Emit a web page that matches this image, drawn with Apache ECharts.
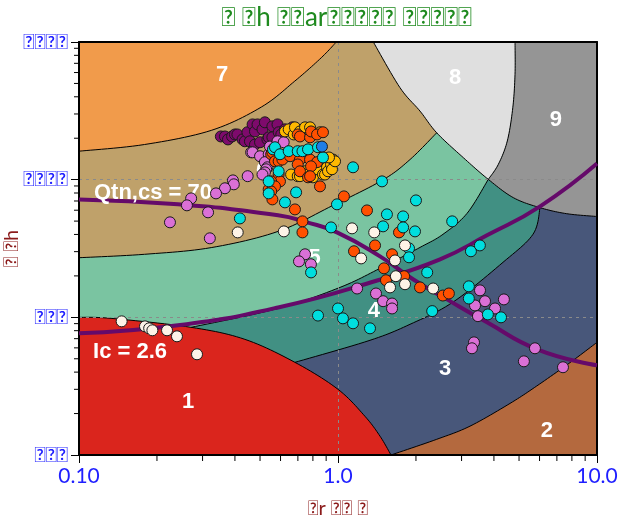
<!DOCTYPE html>
<html><head><meta charset="utf-8">
<script src="https://cdn.jsdelivr.net/npm/echarts@6/dist/echarts.min.js"></script>
<style>html,body{margin:0;padding:0;background:#fff}#c{width:619px;height:521px}</style>
</head><body><div id="c"></div>
<script>
const T = '\uE000';
const titleText = T + ' ' + T + 'h ' + T + T + 'ar' + T + T + T + T + T + ' ' + T + T + T + T + T;
const xAxisName = T + 'r ' + T + T + ' ' + T;
const yAxisName = T + ' ' + T + 'h';
const xTickLabels = ['0.10', '1.0', '10.0'];           // 0.1, 1, 10
const yTickLabels = [T + T + T, T + T + T, T + T + T + T, T + T + T + T]; // 1, 10, 100, 1000
const xMinorTicks = [0.2,0.3,0.4,0.5,0.6,0.7,0.8,0.9,2,3,4,5,6,7,8,9];
const yMinorTicks = [2,3,4,5,6,7,8,9,20,30,40,50,60,70,80,90,200,300,400,500,600,700,800,900];

// zone boundaries [Fr, Qtn]
const b76 = [[0.1,161],[0.179,180],[0.324,228],[0.506,337],[0.681,520],[0.862,769],[0.985,1000]];
const bOuter = [[1.369,1000],[1.735,466],[2.073,315],[2.405,219],[3.047,144.5],[3.804,100.5],[4.753,74.0],[6.026,62.6],[7.64,56.6],[10,54]];
const b89 = [[4.825,1000],[4.825,582],[4.73,333],[4.505,191],[4.158,129],[3.804,100.5]];
const b65 = [[0.1,27.1],[0.179,28.7],[0.324,32.1],[0.587,42.1],[0.957,65.1],[1.492,99.7],[1.897,140],[2.405,219]];
const b54 = [[0.271,8.46],[0.587,11.6],[1.018,16.5],[1.453,22.7],[2.073,32.2],[2.543,40.1],[3.149,56.9],[3.804,100.5]];
const b43 = [[0.682,4.71],[1.329,6.81],[1.897,8.90],[2.78,12.9],[4.336,25.1],[5.66,40.1],[6.026,62.6]];
const bRed = [[0.1,10],[0.133,9.83],[0.271,8.46],[0.437,6.92],[0.682,4.71],[1.0,3.00],[1.271,1.91],[1.453,1.37],[1.602,1]];
const b32 = [[1.602,1],[2.405,1.30],[3.233,1.62],[4.615,2.37],[5.85,3.17],[7.87,4.69],[10,6.58]];

// reference curves
const icLine = [[0.1,7.65],[0.241,8.75],[0.587,11.8],[1.427,18.6],[2.477,26.4],[3.76,39.4],[6.03,64.0],[10,131]];
const qtncsLine = [[0.1,71.9],[0.241,66.2],[0.587,55.1],[0.759,49.0],[0.991,41.4],[1.453,27.7],[1.948,18.9],[2.635,13.5],[3.76,9.20],[5.87,5.86],[10,4.48]];

// zone labels
const zoneNames = ['1','2','3','4','5','6','7','8','9'];
const zoneLabelFr = [0.264,6.41,2.59,1.377,0.813,0.509,0.357,2.83,6.94];
const zoneLabelQ = [2.41,1.49,4.19,11.2,27.1,115,575,550,270];
const noteText = ['Qtn,cs = 70', 'Ic = 2.6'];
const noteFr = [0.193, 0.1574];
const noteQ = [80, 5.62];

// measured points [Fr, Qtn]
const darkPurplePts = [[0.353,206],[0.366,206],[0.376,196],[0.390,206],[0.400,213],[0.409,213],[0.428,196],[0.437,190],[0.447,221],[0.457,190],[0.468,252],[0.478,224],[0.478,180],[0.489,252],[0.500,187],[0.511,232],[0.522,261],[0.534,196],[0.540,203],[0.558,244],[0.558,203],[0.584,252],[0.590,221],[0.604,213],[0.624,232],[0.667,240]];
const orchidPts = [[0.462,158],[0.468,158],[0.500,148],[0.540,153],[0.546,174],[0.584,190],[0.617,187],[0.522,134],[0.534,123],[0.528,119],[0.522,113],[0.511,109],
 [0.448,106],[0.393,98.8],[0.396,92.5],[0.366,86.6],[0.338,79.5],[0.271,73.1],[0.261,65.1],[0.315,57.9],[0.2245,49.0],[0.320,37.5],
 [0.746,28.7],[0.707,25.5],[0.786,24.3],[1.185,16.2],[1.402,14.9],[1.493,13.1],[1.617,12.6],[1.617,11.6],
 [3.534,15.7],[3.695,13.1],[3.381,12.2],[4.039,11.6],[4.37,13.5],[3.47,10.2],[3.35,6.58],[3.29,5.96],[5.76,5.96],[5.22,4.79],[7.39,4.34]];
const goldPts = [[0.624,224],[0.645,232],[0.675,213],[0.682,240],[0.713,224],[0.746,240],[0.780,240],[0.852,221],[0.659,109],[0.699,106],[0.713,106],[0.746,115],[0.761,109],[0.787,106],[0.800,104],[0.830,119],[0.875,109],[0.891,109],[0.907,123],[0.915,115],[0.940,129],[0.948,119],[0.957,140],[0.974,136],[0.923,145]];
const orangeRedPts = [[0.699,213],[0.713,206],[0.780,203],[0.787,224],[0.830,213],[0.875,221],[0.552,153],[0.558,158],[0.571,136],[0.590,136],[0.610,140],[0.653,148],[0.713,140],[0.780,140],[0.830,134],[0.787,125],[0.699,129],[0.713,115],[0.766,104],[0.780,106],[0.590,109],[0.597,97.2],[0.552,97.2],[0.852,89.4],[0.571,89.4],[0.540,85.0],[0.552,82.2],[0.558,71.9],[1.054,75.6],[0.682,60.8],[0.729,49.8],[0.729,41.4],[1.294,59.8],[1.72,41.4],[1.390,33.3],[1.153,30.2],[1.617,28.7],[1.505,22.7],[1.532,18.6],[1.80,19.9],[2.073,16.5],[2.54,14.4],[2.68,14.9]];
const cyanPts = [[0.561,166],[0.571,172],[0.597,153],[0.645,161],[0.699,161],[0.729,161],[0.766,166],[0.837,172],[0.875,145],[0.590,115],[0.540,97.2],[0.540,79.5],[0.624,68.4],[0.689,80.9],[1.143,123],[1.479,97.2],[0.991,66.2],[0.940,45.0],[0.418,52.3],[2.00,70.7],[1.545,56.0],[1.784,54.1],[1.493,45.8],[1.784,45.0],[1.983,42.1],[1.88,31.7],[1.88,27.3],[2.21,21.2],[2.76,49.8],[3.26,30.2],[3.53,33.3],[0.787,21.2],[0.837,10.3],[1.00,11.6],[1.045,9.83],[1.143,9.05],[1.329,8.32],[2.31,11.1],[3.20,16.8],[3.20,13.7],[3.79,10.5],[4.26,10.0]];
const whitePts = [[0.410,41.4],[0.618,42.1],[1.133,44.3],[1.38,41.4],[1.814,33.3],[1.228,26.8],[1.660,25.9],[1.673,19.9],[1.588,16.5],[1.814,17.4],[2.33,16.2],[0.1461,9.35],[0.1798,8.60],[0.1866,8.32],[0.192,8.05],[0.2187,8.05],[0.2389,7.28],[0.2855,5.39]];
const bluePts = [[0.867,174]];

const curves = {b76, bOuter, b89, b65, b54, b43, bRed, b32};
const NSEG = 12;
function catmull(pts, N) {
  const out = [], n = pts.length;
  for (let i = 0; i < n - 1; i++) {
    const p0 = pts[Math.max(i - 1, 0)], p1 = pts[i], p2 = pts[i + 1], p3 = pts[Math.min(i + 2, n - 1)];
    for (let k = 0; k < N; k++) {
      const t = k / N, t2 = t * t, t3 = t2 * t;
      out.push([0, 1].map(d => 0.5 * (2 * p1[d] + (-p0[d] + p2[d]) * t + (2 * p0[d] - 5 * p1[d] + 4 * p2[d] - p3[d]) * t2 + (-p0[d] + 3 * p1[d] - 3 * p2[d] + p3[d]) * t3)));
    }
  }
  out.push(pts[n - 1].slice());
  return out;
}
function curvePx(api, name) { return catmull(curves[name].map(p => api.coord(p)), NSEG); }

const zones = [
  {color: '#48577A', pieces: [[0.1,1],[10,1],[10,1000],[0.1,1000]]},
  {color: '#B4693E', pieces: [{c:'b32'}, [10,1]]},
  {color: '#419083', pieces: [[0.1,1],[0.682,1],{c:'b43'},[6.026,1000],[0.1,1000]]},
  {color: '#7AC4A1', pieces: [[0.1,1],[0.271,1],{c:'b54'},[3.804,1000],[0.1,1000]]},
  {color: '#BFA16A', pieces: [{c:'b65'},[2.405,1000],[0.1,1000]]},
  {color: '#F19B4B', pieces: [{c:'b76'},[0.1,1000]]},
  {color: '#DFDFDF', pieces: [{c:'bOuter', s:0, e:5},{c:'b89', rev:true}]},
  {color: '#959595', pieces: [{c:'b89'},{c:'bOuter', s:5},[10,1000]]},
  {color: '#DA251D', pieces: [{c:'bRed'},[0.1,1]]}
];
const strokeNames = ['b76','bOuter','b89','b65','b54','b43','bRed','b32'];

const FONT = 'Lato';
const chart = echarts.init(document.getElementById('c'));
const logX = v => Math.round(Math.log10(v));

function scatter(data, color) {
  return {type:'scatter', data, symbolSize: 11, z: 5,
    itemStyle: {color, borderColor: '#1a1a1a', borderWidth: 1, opacity: 1}, emphasis:{disabled:true}};
}

const option = {
  animation: false,
  backgroundColor: '#fff',
  grid: {left: 79, right: 22, top: 42, bottom: 66, containLabel: false, outerBoundsMode: 'none'},
  graphic: [{type:'text', x: 347, y: 18, z: 10,
    style: {text: titleText, fill: '#1f8a1f', font: '26px Lato', align: 'center', verticalAlign: 'middle'}}],
  xAxis: [{
    type: 'log', logBase: 10, min: 0.1, max: 10, z: 2,
    name: xAxisName, nameLocation: 'middle', nameGap: 44, nameMoveOverlap: false,
    nameTextStyle: {color: '#8b1a1a', fontSize: 20, fontFamily: FONT},
    axisLine: {show: true, onZero: false, lineStyle: {color: '#000', width: 2}},
    axisTick: {show: true, length: 8, lineStyle: {color: '#000'}},
    axisLabel: {color: '#1f1fff', fontSize: 21, margin: 11, fontFamily: FONT,
      formatter: v => xTickLabels[logX(v) + 1]},
    splitLine: {show: true, lineStyle: {color: '#8a8a8a', type: [3, 4], width: 1}}
  }, {
    type: 'log', logBase: 10, min: 0.1, max: 10, position: 'top', z: 2,
    axisLine: {show: true, onZero: false, lineStyle: {color: '#000', width: 2}},
    axisTick: {show: false}, axisLabel: {show: false}, splitLine: {show: false}
  }],
  yAxis: [{
    type: 'log', logBase: 10, min: 1, max: 1000, z: 2,
    name: yAxisName, nameLocation: 'middle', nameGap: 57, nameMoveOverlap: false,
    nameTextStyle: {color: '#8b1a1a', fontSize: 20, fontFamily: FONT},
    axisLine: {show: true, onZero: false, lineStyle: {color: '#000', width: 2}},
    axisTick: {show: true, length: 8, lineStyle: {color: '#000'}},
    axisLabel: {color: '#1f1fff', fontSize: 21, margin: 11, fontFamily: FONT,
      formatter: v => yTickLabels[logX(v)]},
    splitLine: {show: true, lineStyle: {color: '#8a8a8a', type: [3, 4], width: 1}}
  }, {
    type: 'log', logBase: 10, min: 1, max: 1000, position: 'right', z: 2,
    axisLine: {show: true, onZero: false, lineStyle: {color: '#000', width: 2}},
    axisTick: {show: false}, axisLabel: {show: false}, splitLine: {show: false}
  }],
  series: [
    {type: 'custom', z: 1, clip: true, silent: true,
      data: zones.map(() => [1, 10]),
      renderItem: (params, api) => {
        const zn = zones[params.dataIndex];
        let pts = [];
        zn.pieces.forEach(pc => {
          if (Array.isArray(pc)) { pts.push(api.coord(pc)); return; }
          let s = curvePx(api, pc.c);
          const a = (pc.s || 0) * NSEG, b = pc.e != null ? pc.e * NSEG + 1 : s.length;
          s = s.slice(a, b);
          if (pc.rev) s.reverse();
          pts = pts.concat(s);
        });
        return {type: 'polygon', shape: {points: pts}, style: {fill: zn.color}};
      }},
    {type: 'custom', z: 1.5, clip: true, silent: true,
      data: strokeNames.map(() => [1, 10]),
      renderItem: (params, api) => ({type: 'polyline', shape: {points: curvePx(api, strokeNames[params.dataIndex])},
        style: {stroke: '#000', lineWidth: 1, fill: null}})},
    {type: 'custom', z: 2, clip: false, silent: true,
      data: xMinorTicks.map(v => [v, 1]),
      renderItem: (params, api) => { const p = api.coord([api.value(0), 1]);
        return {type: 'line', shape: {x1: p[0], y1: p[1], x2: p[0], y2: p[1] + 6}, style: {stroke: '#000', lineWidth: 1}}; }},
    {type: 'custom', z: 2, clip: false, silent: true,
      data: yMinorTicks.map(v => [0.1, v]),
      renderItem: (params, api) => { const p = api.coord([0.1, api.value(1)]);
        return {type: 'line', shape: {x1: p[0], y1: p[1], x2: p[0] - 5, y2: p[1]}, style: {stroke: '#000', lineWidth: 1}}; }},
    {type: 'line', data: icLine, smooth: true, symbol: 'none', z: 3, silent: true,
      lineStyle: {color: '#650a6a', width: 4}},
    {type: 'line', data: qtncsLine, smooth: true, symbol: 'none', z: 3, silent: true,
      lineStyle: {color: '#650a6a', width: 4}},
    {type: 'custom', z: 3.5, clip: false, silent: true,
      data: zoneNames.map((n, i) => [zoneLabelFr[i], zoneLabelQ[i]]),
      renderItem: (params, api) => { const p = api.coord([api.value(0), api.value(1)]);
        return {type: 'text', x: p[0], y: p[1], style: {text: zoneNames[params.dataIndex], fill: '#fff',
          font: 'bold 22px "Liberation Sans", Arial, sans-serif', align: 'center', verticalAlign: 'middle'}}; }},
    {type: 'custom', z: 3.6, clip: false, silent: true,
      data: noteText.map((n, i) => [noteFr[i], noteQ[i]]),
      renderItem: (params, api) => { const p = api.coord([api.value(0), api.value(1)]);
        return {type: 'text', x: p[0], y: p[1], style: {text: noteText[params.dataIndex], fill: '#fff',
          font: 'bold 22px "Liberation Sans", Arial, sans-serif', align: 'center', verticalAlign: 'middle'}}; }},
    scatter(darkPurplePts, '#7e0a6c'),
    scatter(orchidPts, '#da70d6'),
    scatter(goldPts, '#ffb800'),
    scatter(orangeRedPts, '#ff5000'),
    scatter(cyanPts, '#00dede'),
    scatter(whitePts, '#fdf3e7'),
    scatter(bluePts, '#1e7ee8')
  ]
};
chart.setOption(option);
</script>
</body></html>
